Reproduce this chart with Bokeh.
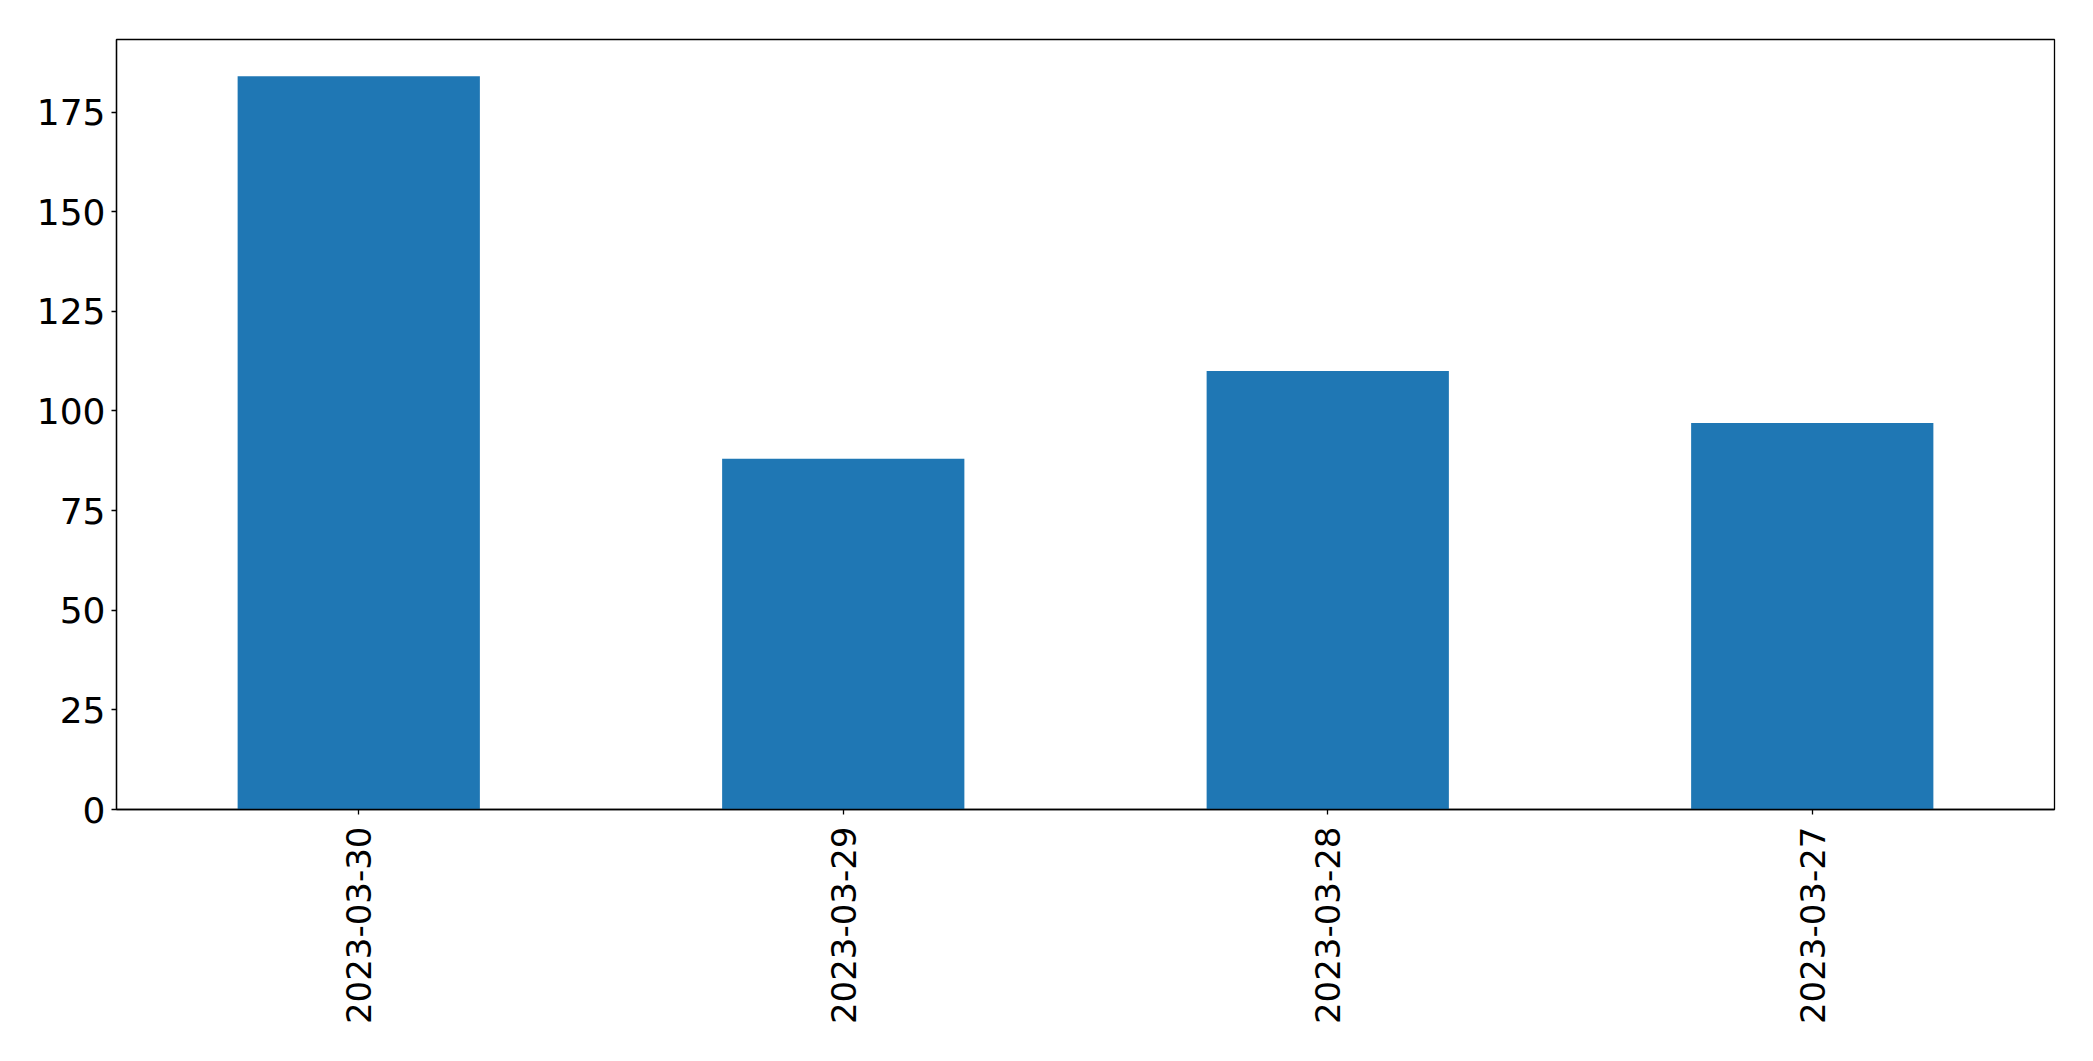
import math
from bokeh.plotting import figure
from bokeh.models import Range1d, FixedTicker
from bokeh.embed import file_html
from bokeh.resources import INLINE

dates = ["2023-03-30", "2023-03-29", "2023-03-28", "2023-03-27"]
counts = [184, 88, 110, 97]
y_ticks = [0, 25, 50, 75, 100, 125, 150, 175]

p = figure(x_range=dates, y_range=Range1d(0, max(counts) * 1.05),
           width=2085, height=1053, output_backend="svg", toolbar_location=None,
           min_border_left=116, min_border_right=31, min_border_top=39, min_border_bottom=244)

p.vbar(x=dates, top=counts, width=0.5, color="#1f77b4", line_color=None)

p.xgrid.grid_line_color = None
p.ygrid.grid_line_color = None
p.outline_line_color = "black"
p.outline_line_width = 1.3
p.outline_line_alpha = 1

for ax in (p.xaxis, p.yaxis):
    ax.axis_line_color = "black"
    ax.axis_line_width = 1.3
    ax.major_tick_line_color = "black"
    ax.major_tick_line_width = 1.3
    ax.major_tick_out = 5
    ax.major_tick_in = 0
    ax.minor_tick_line_color = None
    ax.major_label_text_font = "DejaVu Sans"
    ax.major_label_text_color = "black"

p.yaxis.major_label_text_font_size = "36px"
p.yaxis.major_label_standoff = 6
p.xaxis.major_label_text_font_size = "34px"
p.xaxis.major_label_standoff = 12

p.yaxis.ticker = FixedTicker(ticks=y_ticks)
p.xaxis.major_label_orientation = math.pi / 2
p.x_range.range_padding = 0
p.background_fill_color = "white"
p.border_fill_color = "white"

open("out.html", "w").write(file_html(p, INLINE))
